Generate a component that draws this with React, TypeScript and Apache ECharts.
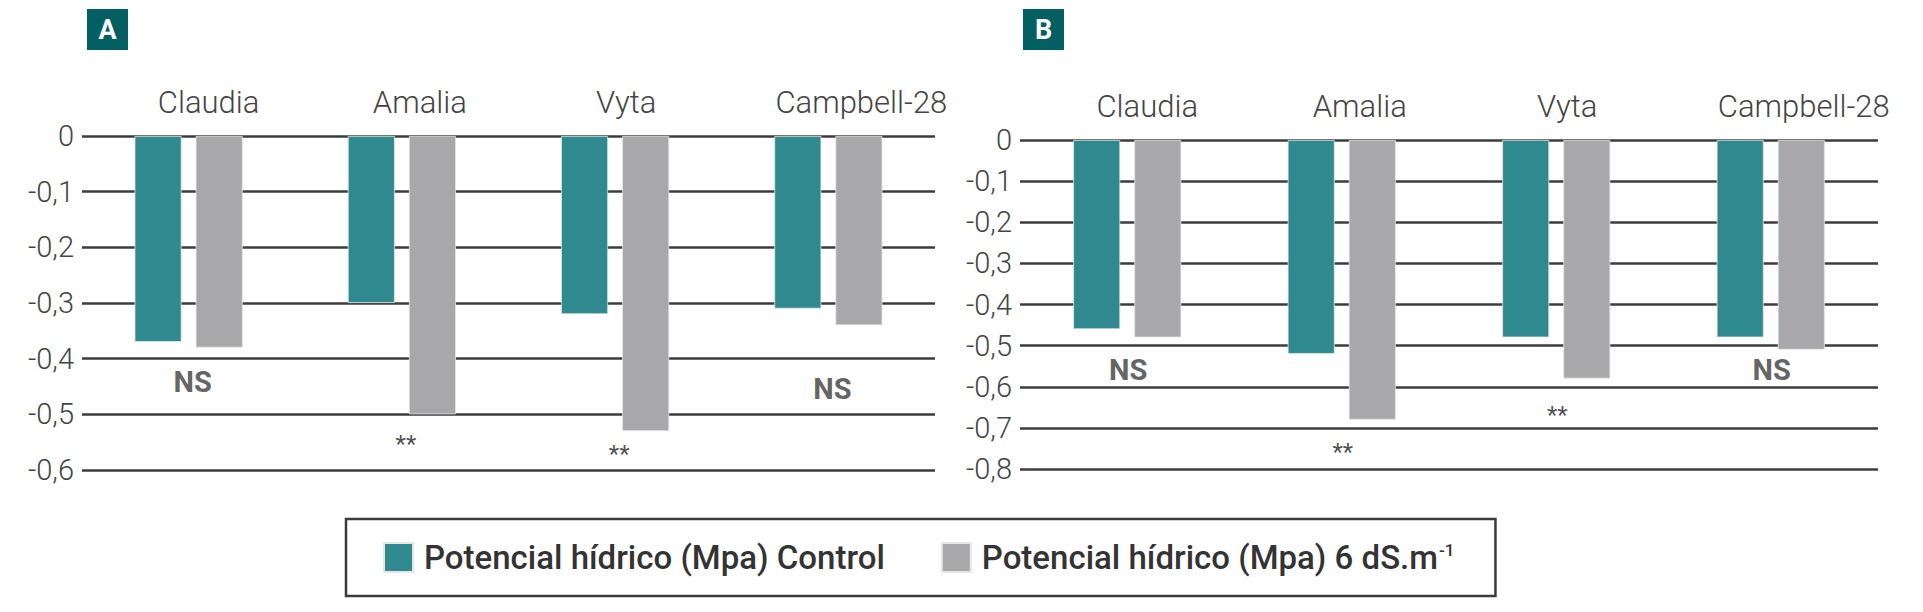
import React, { useEffect, useRef } from "react";
import * as echarts from "echarts";

const categories = ["Claudia", "Amalia", "Vyta", "Campbell-28"];
const seriesNames = ["Potencial hídrico (Mpa) Control", "Potencial hídrico (Mpa) 6 dS.m-1"];

const controlA = [-0.37, -0.3, -0.32, -0.31];
const salineA = [-0.38, -0.5, -0.53, -0.34];
const controlB = [-0.46, -0.52, -0.48, -0.48];
const salineB = [-0.48, -0.68, -0.58, -0.51];

const sigA = ["NS", "**", "**", "NS"];
const sigAPos = [-0.442, -0.553, -0.572, -0.454];
const sigB = ["NS", "**", "**", "NS"];
const sigBPos = [-0.559, -0.758, -0.669, -0.559];

const yMinA = -0.6;
const yMinB = -0.8;
const panelLetters = ["A", "B"];

const TEAL = "#2e8a8f";
const GRAY = "#a8a7aa";
const LINE = "#3c3c3c";
const FONT = "Roboto";
const LABEL_SHIFT = [40, 36, 22, 66];

const fmt = (v: number) => (Math.abs(v) < 1e-9 ? "0" : v.toFixed(1).replace(".", ","));

export default function App() {
  const ref = useRef<HTMLDivElement>(null);
  useEffect(() => {
    if (!ref.current) return;
    const chart = echarts.init(ref.current, null, { renderer: "svg" });

    const grids = [
      { left: 82, top: 136, width: 853, height: 334 },
      { left: 1020, top: 140, width: 858, height: 329 },
    ];
    const mins = [yMinA, yMinB];
    const sigs = [sigA, sigB];
    const sigPos = [sigAPos, sigBPos];
    const data = [
      [controlA, salineA],
      [controlB, salineB],
    ];

    const xAxes = grids.map((_, i) => ({
      type: "category",
      gridIndex: i,
      position: "top",
      data: categories.map((c, k) => ({ value: c, textStyle: { padding: [0, 0, 0, LABEL_SHIFT[k]] } })),
      axisLine: { show: false },
      axisTick: { show: false },
      axisLabel: {
        interval: 0,
        hideOverlap: false,
        fontFamily: FONT,
        fontWeight: 300,
        fontSize: 31,
        color: "#444",
        margin: 18,
      },
    }));
    const yAxes = grids.map((_, i) => ({
      type: "value",
      gridIndex: i,
      min: mins[i],
      max: 0,
      interval: 0.1,
      axisLine: { show: false },
      axisTick: { show: false },
      splitLine: { show: true, lineStyle: { color: LINE, width: 2.5 } },
      axisLabel: {
        fontFamily: FONT,
        fontWeight: 300,
        fontSize: 29,
        color: "#444",
        margin: 8,
        formatter: (v: number) => fmt(v),
      },
    }));

    const series: any[] = [];
    grids.forEach((_, g) => {
      [0, 1].forEach((s) => {
        series.push({
          type: "bar",
          name: seriesNames[s],
          xAxisIndex: g,
          yAxisIndex: g,
          data: data[g][s],
          barWidth: 47,
          barGap: "30%",
          itemStyle: { color: s === 0 ? TEAL : GRAY, borderColor: "#e6e6e6", borderWidth: 0.8 },
        });
      });
      series.push({
        type: "scatter",
        name: "sig" + g,
        xAxisIndex: g,
        yAxisIndex: g,
        symbolSize: 0,
        silent: true,
        data: sigs[g].map((t, i) => ({
          value: [i, sigPos[g][i]],
          label: {
            show: true,
            position: "inside",
            offset: [g === 0 ? 4 : 1, 0],
            formatter: t,
            fontFamily: FONT,
            fontWeight: t === "NS" ? 700 : 400,
            fontSize: t === "NS" ? 29 : 24,
            color: t === "NS" ? "#3a3a3a" : "#222",
          },
        })),
      });
    });

    const panelGraphics = panelLetters.map((l, i) => ({
      type: "group",
      left: i === 0 ? 87 : 1023,
      top: 9,
      children: [
        { type: "rect", shape: { x: 0, y: 0, width: 41, height: 41 }, style: { fill: "#045f62" } },
        {
          type: "text",
          x: 20.5,
          y: 21,
          style: {
            text: l,
            fill: "#fff",
            font: `bold 27px ${FONT}`,
            textAlign: "center",
            textVerticalAlign: "middle",
          },
        },
      ],
    }));

    chart.setOption({
      animation: false,
      backgroundColor: "#fff",
      grid: grids,
      xAxis: xAxes,
      yAxis: yAxes,
      series,
      graphic: panelGraphics,
      legend: {
        left: 346,
        top: 519,
        orient: "horizontal",
        data: seriesNames,
        icon: "rect",
        itemWidth: 29,
        itemHeight: 29,
        itemGap: 56,
        borderColor: "#3b3b3b",
        borderWidth: 2.5,
        padding: [22, 41, 22, 37],
        textStyle: {
          padding: [0, 0, 0, 6],
          rich: {
            t: { fontFamily: FONT, fontWeight: 500, fontSize: 33, color: "#333" },
            s: { fontFamily: FONT, fontWeight: 500, fontSize: 17, color: "#333", verticalAlign: "top", padding: [0, 0, 14, 1] },
          },
        },
        formatter: (name: string) =>
          name === seriesNames[1] ? "{t|Potencial hídrico (Mpa) 6 dS.m}{s|-1}" : `{t|${name}}`,
      },
    });
    return () => chart.dispose();
  }, []);
  return <div ref={ref} style={{ position: "fixed", left: 0, top: 0, width: 1923, height: 612 }} />;
}
